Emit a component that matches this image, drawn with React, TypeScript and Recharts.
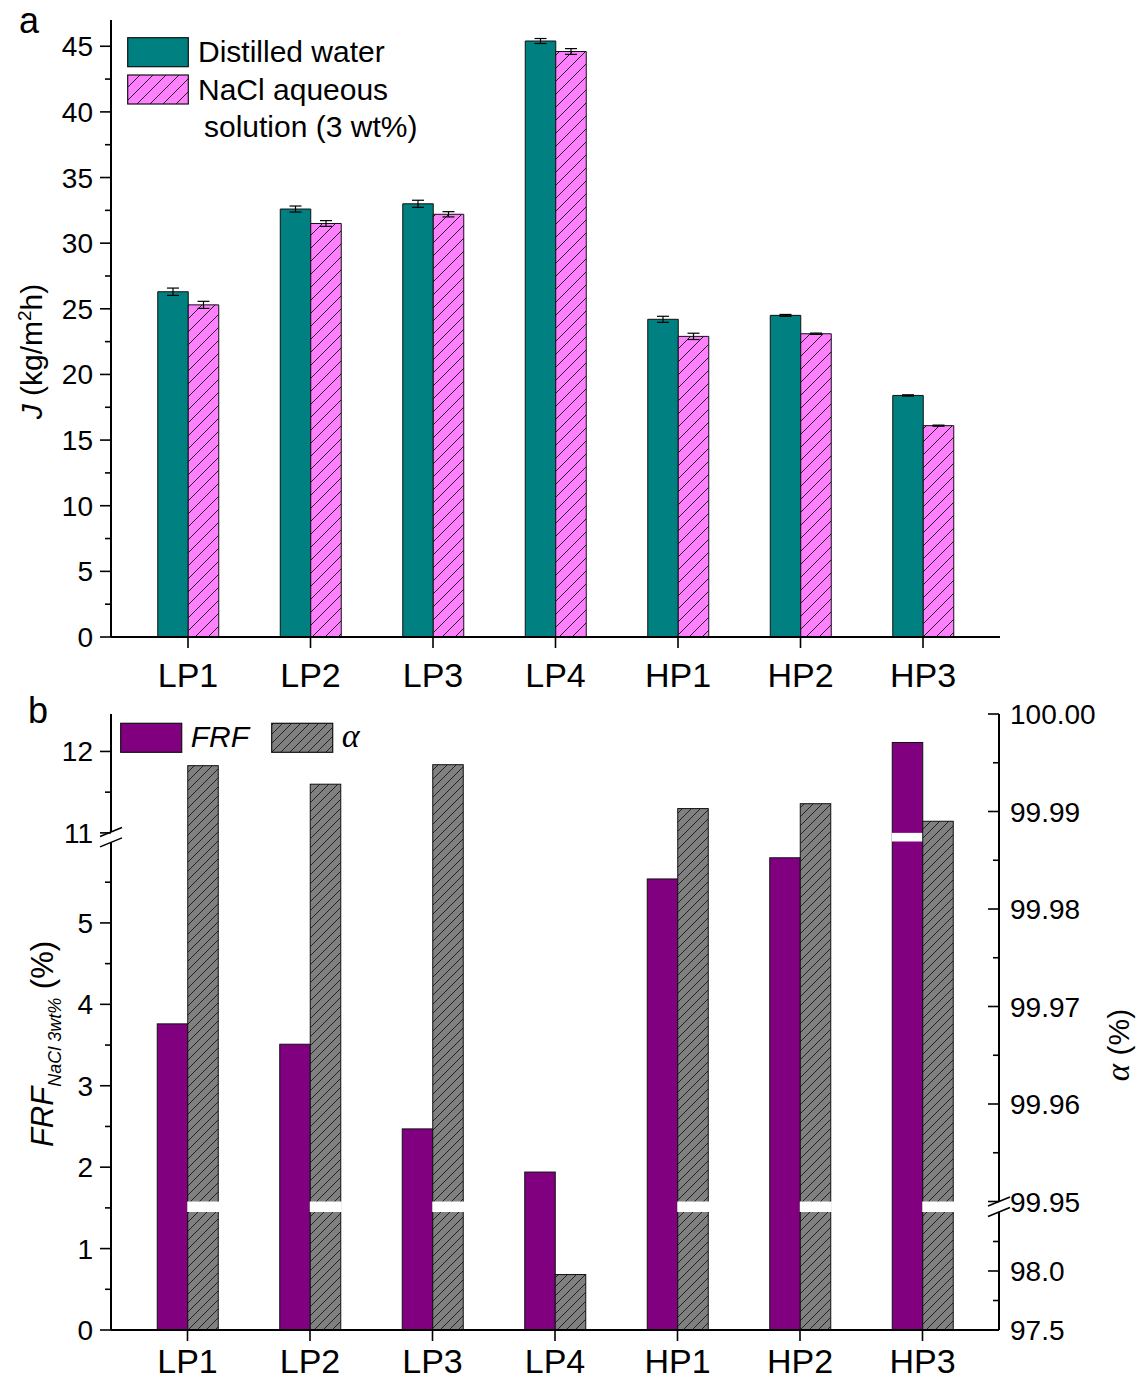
import React from 'react';
import { BarChart, Bar, XAxis, YAxis, ErrorBar, Legend } from 'recharts';

// ---- data ----
const categories = ['LP1', 'LP2', 'LP3', 'LP4', 'HP1', 'HP2', 'HP3'];

// permeate flux J (kg/m2h)
const waterFlux = [26.3, 32.6, 33.0, 45.4, 24.2, 24.5, 18.4];
const waterFluxErr = [0.28, 0.23, 0.27, 0.19, 0.23, 0.07, 0.05];
const salineFlux = [25.3, 31.5, 32.2, 44.6, 22.9, 23.1, 16.1];
const salineFluxErr = [0.27, 0.22, 0.2, 0.22, 0.24, 0.05, 0.04];

// flux reduction factor (%) and salt rejection alpha (%)
const frfValues = [3.76, 3.51, 2.47, 1.94, 5.54, 5.8, 12.11];
const alphaValues = [99.9947, 99.9928, 99.9948, 97.97, 99.9903, 99.9908, 99.989];

// tick values
const fluxTicksMajor = [0, 5, 10, 15, 20, 25, 30, 35, 40, 45];
const fluxTicksMinor = [2.5, 7.5, 12.5, 17.5, 22.5, 27.5, 32.5, 37.5, 42.5];
const frfTicksMajor = [0, 1, 2, 3, 4, 5, 11, 12];
const frfTicksMinor = [0.5, 1.5, 2.5, 3.5, 4.5, 5.5, 11.5];
const alphaTicksMajor = [97.5, 98.0, 99.95, 99.96, 99.97, 99.98, 99.99, 100.0];
const alphaTickLabels = ['97.5', '98.0', '99.95', '99.96', '99.97', '99.98', '99.99', '100.00'];
const alphaTicksMinor = [97.75, 98.25, 99.955, 99.965, 99.975, 99.985, 99.995];

// ---- broken axes ----
// FRF axis: 0–6 below the break, 11–12.46 above it
const FRF_LOW_END = 6;
const FRF_HIGH_START = 11;
const FRF_GAP = 0.106;
const FRF_MAX = 12.46;
const frfToAxis = (v: number) =>
  v <= FRF_LOW_END ? v : FRF_LOW_END + FRF_GAP + (v - FRF_HIGH_START);

// alpha axis: 97.5–98.5 below the break, 99.95–100 above it
const A_LOW_START = 97.5;
const A_LOW_END = 98.5;
const A_HIGH_START = 99.95;
const A_HIGH_END = 100;
const A_LOW_SPAN = 118;
const A_GAP = 10.5;
const A_HIGH_SPAN = 487.5;
const alphaToAxis = (a: number) =>
  a <= A_LOW_END
    ? ((a - A_LOW_START) / (A_LOW_END - A_LOW_START)) * A_LOW_SPAN
    : A_LOW_SPAN + A_GAP + ((a - A_HIGH_START) / (A_HIGH_END - A_HIGH_START)) * A_HIGH_SPAN;

const FRF_BREAK_MID = FRF_LOW_END + FRF_GAP / 2;
const ALPHA_BREAK_MID = A_LOW_SPAN + A_GAP / 2;

const fluxData = categories.map((cat, i) => ({
  cat,
  water: waterFlux[i],
  waterErr: waterFluxErr[i],
  saline: salineFlux[i],
  salineErr: salineFluxErr[i],
}));

const selectivityData = categories.map((cat, i) => ({
  cat,
  frf: frfValues[i],
  frfAxis: frfToAxis(frfValues[i]),
  alpha: alphaValues[i],
  alphaAxis: alphaToAxis(alphaValues[i]),
}));

const FONT = '"Liberation Sans", Arial, sans-serif';
const SERIF = '"Liberation Serif", "Times New Roman", serif';
const TEAL = '#008080';
const PINK = '#FF80FF';
const PURPLE = '#800080';
const GRAY = '#808080';
const AXIS_LINE = { stroke: '#000', strokeWidth: 2 };
const TICK_FONT = 28;

type Major = { v: number; label: string };

const fluxMajors: Major[] = fluxTicksMajor.map((v) => ({ v, label: String(v) }));
const frfMajors: Major[] = frfTicksMajor.map((v) => ({ v: frfToAxis(v), label: String(v) }));
const alphaMajors: Major[] = alphaTicksMajor.map((v, i) => ({ v: alphaToAxis(v), label: alphaTickLabels[i] }));

const fluxTicks = [...fluxTicksMajor, ...fluxTicksMinor].sort((a, b) => a - b);
const frfTicks = [...frfTicksMajor, ...frfTicksMinor].map(frfToAxis).concat([FRF_BREAK_MID]).sort((a, b) => a - b);
const alphaTicks = [...alphaTicksMajor, ...alphaTicksMinor].map(alphaToAxis).concat([ALPHA_BREAK_MID]).sort((a, b) => a - b);

// y-axis tick: tick marks drawn to the left of the axis line, labels on the outer side
const makeYTick = (side: 'left' | 'right', majors: Major[], breakAt?: number) => (props: any) => {
  const { x, y, payload } = props;
  const v = payload?.value;
  if (breakAt !== undefined && Math.abs(v - breakAt) < 1e-6) {
    const h = 5.2;
    const w = 11;
    const s = 4.5;
    return (
      <g>
        <polygon
          points={`${x - w},${y - h + s} ${x + w},${y - h - s} ${x + w},${y + h - s} ${x - w},${y + h + s}`}
          fill="#fff"
        />
        <line x1={x - w} y1={y - h + s} x2={x + w} y2={y - h - s} stroke="#000" strokeWidth={1.6} />
        <line x1={x - w} y1={y + h + s} x2={x + w} y2={y + h - s} stroke="#000" strokeWidth={1.6} />
      </g>
    );
  }
  const m = majors.find((t) => Math.abs(t.v - v) < 1e-6);
  const len = m ? 11 : 6;
  return (
    <g>
      <line x1={x - len} y1={y} x2={x} y2={y} stroke="#000" strokeWidth={1.6} />
      {m && (
        <text
          x={side === 'left' ? x - 18 : x + 11}
          y={y}
          dy={10}
          textAnchor={side === 'left' ? 'end' : 'start'}
          fontSize={TICK_FONT}
          fontFamily={FONT}
          fill="#000"
        >
          {m.label}
        </text>
      )}
    </g>
  );
};

const makeXTick = (labelDy: number) => (props: any) => {
  const { x, y, payload } = props;
  return (
    <g>
      <line x1={x} y1={y} x2={x} y2={y + 11} stroke="#000" strokeWidth={1.6} />
      <text x={x} y={y + labelDy} textAnchor="middle" fontSize={34} fontFamily={FONT} fill="#000">
        {payload.value}
      </text>
    </g>
  );
};

// bar with a white gap where it crosses the axis break
const makeBrokenBar = (key: string, gapFrom: number, gapTo: number) => (props: any) => {
  const { x, y, width, height, fill, payload } = props;
  const d = payload?.[key];
  if (!height || !d) return <g />;
  const ppu = height / d;
  const base = y + height;
  const top = base - gapTo * ppu;
  const bottom = base - gapFrom * ppu;
  return (
    <g>
      <rect x={x} y={y} width={width} height={height} fill={fill} stroke="#111" strokeWidth={1} />
      {d > gapTo && <rect x={x - 0.5} y={top} width={width + 1.5} height={bottom - top} fill="#fff" />}
    </g>
  );
};

const fluxTitle = (props: any) => {
  const vb = props.viewBox || { x: 0, y: 20, width: 111, height: 617 };
  const cx = vb.x + 42;
  const cy = vb.y + vb.height / 2 + 23;
  return (
    <text x={cx} y={cy} transform={`rotate(-90 ${cx} ${cy})`} textAnchor="middle" fontSize={30} fontFamily={FONT} fill="#000">
      <tspan fontStyle="italic">J</tspan>
      <tspan> (kg/m</tspan>
      <tspan fontSize={19} dy={-11}>2</tspan>
      <tspan dy={11}>h)</tspan>
    </text>
  );
};

const frfTitle = (props: any) => {
  const vb = props.viewBox || { x: 0, y: 714, width: 111, height: 616 };
  const cx = vb.x + 53;
  const cy = vb.y + vb.height / 2 + 22;
  return (
    <text x={cx} y={cy} transform={`rotate(-90 ${cx} ${cy})`} textAnchor="middle" fontSize={31} fontFamily={FONT} fill="#000">
      <tspan fontStyle="italic">FRF</tspan>
      <tspan fontStyle="italic" fontSize={18} dy={8}>NaCl 3wt%</tspan>
      <tspan dy={-8}> (%)</tspan>
    </text>
  );
};

const alphaTitle = (props: any) => {
  const vb = props.viewBox || { x: 999, y: 714, width: 138, height: 616 };
  const cx = vb.x + 130;
  const cy = vb.y + vb.height / 2 + 23;
  return (
    <text x={cx} y={cy} transform={`rotate(-90 ${cx} ${cy})`} textAnchor="middle" fontSize={30} fontFamily={FONT} fill="#000">
      <tspan fontFamily={SERIF} fontStyle="italic" fontSize={33}>α</tspan>
      <tspan> (%)</tspan>
    </text>
  );
};

const fluxLegend = (props: any) => {
  const items = props.payload || [];
  return (
    <svg width={340} height={120} style={{ overflow: 'visible', display: 'block' }}>
      {items.map((it: any, i: number) => {
        const lines = String(it.value).split('\n');
        const top = 7.7 + i * 37.3;
        return (
          <g key={i}>
            <rect x={7.7} y={top} width={60.6} height={29} fill={it.color} stroke="#111" strokeWidth={1.2} />
            {lines.map((ln: string, j: number) => (
              <text key={j} x={78 + j * 6} y={top + 24.5 + j * 37} fontSize={30} fontFamily={FONT} fill="#000">
                {ln}
              </text>
            ))}
          </g>
        );
      })}
    </svg>
  );
};

const selectivityLegend = (props: any) => {
  const items = props.payload || [];
  return (
    <svg width={300} height={40} style={{ overflow: 'visible', display: 'block' }}>
      {items.map((it: any, i: number) => {
        const left = 5.7 + i * 151;
        const isAlpha = it.dataKey === 'alphaAxis';
        return (
          <g key={i}>
            <rect x={left} y={3.3} width={61} height={29} fill={it.color} stroke="#111" strokeWidth={1.2} />
            <text
              x={left + 70}
              y={27}
              fontSize={isAlpha ? 34 : 30}
              fontStyle="italic"
              fontFamily={isAlpha ? SERIF : FONT}
              fill="#000"
            >
              {it.value}
            </text>
          </g>
        );
      })}
    </svg>
  );
};

const hatch = (id: string, size: number, fill: string, stroke: string) => (
  <pattern id={id} patternUnits="userSpaceOnUse" width={size} height={size}>
    <rect width={size} height={size} fill={fill} />
    <path
      d={`M0,${size} L${size},0 M${-size / 4},${size / 4} L${size / 4},${-size / 4} M${(3 * size) / 4},${(5 * size) / 4} L${(5 * size) / 4},${(3 * size) / 4}`}
      stroke={stroke}
      strokeWidth={1}
    />
  </pattern>
);

const FluxChart = () => (
  <BarChart
    width={1137}
    height={700}
    data={fluxData}
    margin={{ top: 20, right: 137, bottom: 23, left: 0 }}
    barGap={0}
    barSize={30.5}
  >
    <defs>{hatch('hatchPink', 13, PINK, '#1a1a1a')}</defs>
    <XAxis
      dataKey="cat"
      interval={0}
      height={40}
      padding={{ left: 15.75, right: 15.75 }}
      tickLine={false}
      tickSize={0}
      tickMargin={0}
      axisLine={AXIS_LINE}
      tick={makeXTick(50)}
    />
    <XAxis xAxisId="frame" dataKey="cat" orientation="top" height={0} tick={false} tickLine={false} axisLine={AXIS_LINE} />
    <YAxis
      yAxisId="j"
      type="number"
      domain={[0, 47]}
      ticks={fluxTicks}
      interval={0}
      width={111}
      tickLine={false}
      tickSize={0}
      tickMargin={0}
      axisLine={AXIS_LINE}
      tick={makeYTick('left', fluxMajors)}
      label={fluxTitle}
    />
    <YAxis yAxisId="frame" orientation="right" type="number" domain={[0, 47]} width={0} tick={false} tickLine={false} axisLine={AXIS_LINE} />
    <Legend
      layout="vertical"
      align="center"
      verticalAlign="middle"
      content={fluxLegend}
      wrapperStyle={{ top: 30, left: 120, width: 340, height: 120 }}
    />
    <Bar yAxisId="j" dataKey="water" name="Distilled water" fill={TEAL} stroke="#111" strokeWidth={1} isAnimationActive={false}>
      <ErrorBar dataKey="waterErr" width={6} stroke="#000" strokeWidth={1.2} isAnimationActive={false} />
    </Bar>
    <Bar
      yAxisId="j"
      dataKey="saline"
      name={'NaCl aqueous\nsolution (3 wt%)'}
      fill="url(#hatchPink)"
      stroke="#111"
      strokeWidth={1}
      isAnimationActive={false}
    >
      <ErrorBar dataKey="salineErr" width={6} stroke="#000" strokeWidth={1.2} isAnimationActive={false} />
    </Bar>
  </BarChart>
);

const SelectivityChart = () => (
  <BarChart
    width={1137}
    height={699}
    data={selectivityData}
    margin={{ top: 24, right: 0, bottom: 14, left: 0 }}
    barGap={0}
    barSize={30.5}
  >
    <defs>{hatch('hatchGray', 9, GRAY, '#222')}</defs>
    <XAxis
      dataKey="cat"
      interval={0}
      height={45}
      padding={{ left: 15.25, right: 15.25 }}
      tickLine={false}
      tickSize={0}
      tickMargin={0}
      axisLine={AXIS_LINE}
      tick={makeXTick(43)}
    />
    <XAxis xAxisId="frame" dataKey="cat" orientation="top" height={0} tick={false} tickLine={false} axisLine={AXIS_LINE} />
    <YAxis
      yAxisId="frf"
      type="number"
      domain={[0, frfToAxis(FRF_MAX)]}
      ticks={frfTicks}
      interval={0}
      width={111}
      tickLine={false}
      tickSize={0}
      tickMargin={0}
      axisLine={AXIS_LINE}
      tick={makeYTick('left', frfMajors, FRF_BREAK_MID)}
      label={frfTitle}
    />
    <YAxis
      yAxisId="alpha"
      orientation="right"
      type="number"
      domain={[0, alphaToAxis(A_HIGH_END)]}
      ticks={alphaTicks}
      interval={0}
      width={138}
      tickLine={false}
      tickSize={0}
      tickMargin={0}
      axisLine={AXIS_LINE}
      tick={makeYTick('right', alphaMajors, ALPHA_BREAK_MID)}
      label={alphaTitle}
    />
    <Legend
      layout="vertical"
      align="center"
      verticalAlign="middle"
      content={selectivityLegend}
      wrapperStyle={{ top: 30, left: 115, width: 300, height: 40 }}
    />
    <Bar
      yAxisId="frf"
      dataKey="frfAxis"
      name="FRF"
      fill={PURPLE}
      isAnimationActive={false}
      shape={makeBrokenBar('frfAxis', FRF_LOW_END, FRF_LOW_END + FRF_GAP)}
    />
    <Bar
      yAxisId="alpha"
      dataKey="alphaAxis"
      name="α"
      fill="url(#hatchGray)"
      isAnimationActive={false}
      shape={makeBrokenBar('alphaAxis', A_LOW_SPAN, A_LOW_SPAN + A_GAP)}
    />
  </BarChart>
);

export default function App() {
  return (
    <div
      style={{
        position: 'absolute',
        left: 0,
        top: 0,
        width: 1137,
        height: 1389,
        background: '#fff',
        fontFamily: FONT,
        overflow: 'hidden',
      }}
    >
      <div style={{ position: 'absolute', left: 0, top: 0 }}>
        <FluxChart />
      </div>
      <div style={{ position: 'absolute', left: 0, top: 690 }}>
        <SelectivityChart />
      </div>
      <svg
        width={1137}
        height={1389}
        style={{ position: 'absolute', left: 0, top: 0, pointerEvents: 'none' }}
      >
        <text x={19} y={33} fontSize={36} fontFamily={FONT} fill="#000">a</text>
        <text x={28} y={723} fontSize={36} fontFamily={FONT} fill="#000">b</text>
      </svg>
    </div>
  );
}
